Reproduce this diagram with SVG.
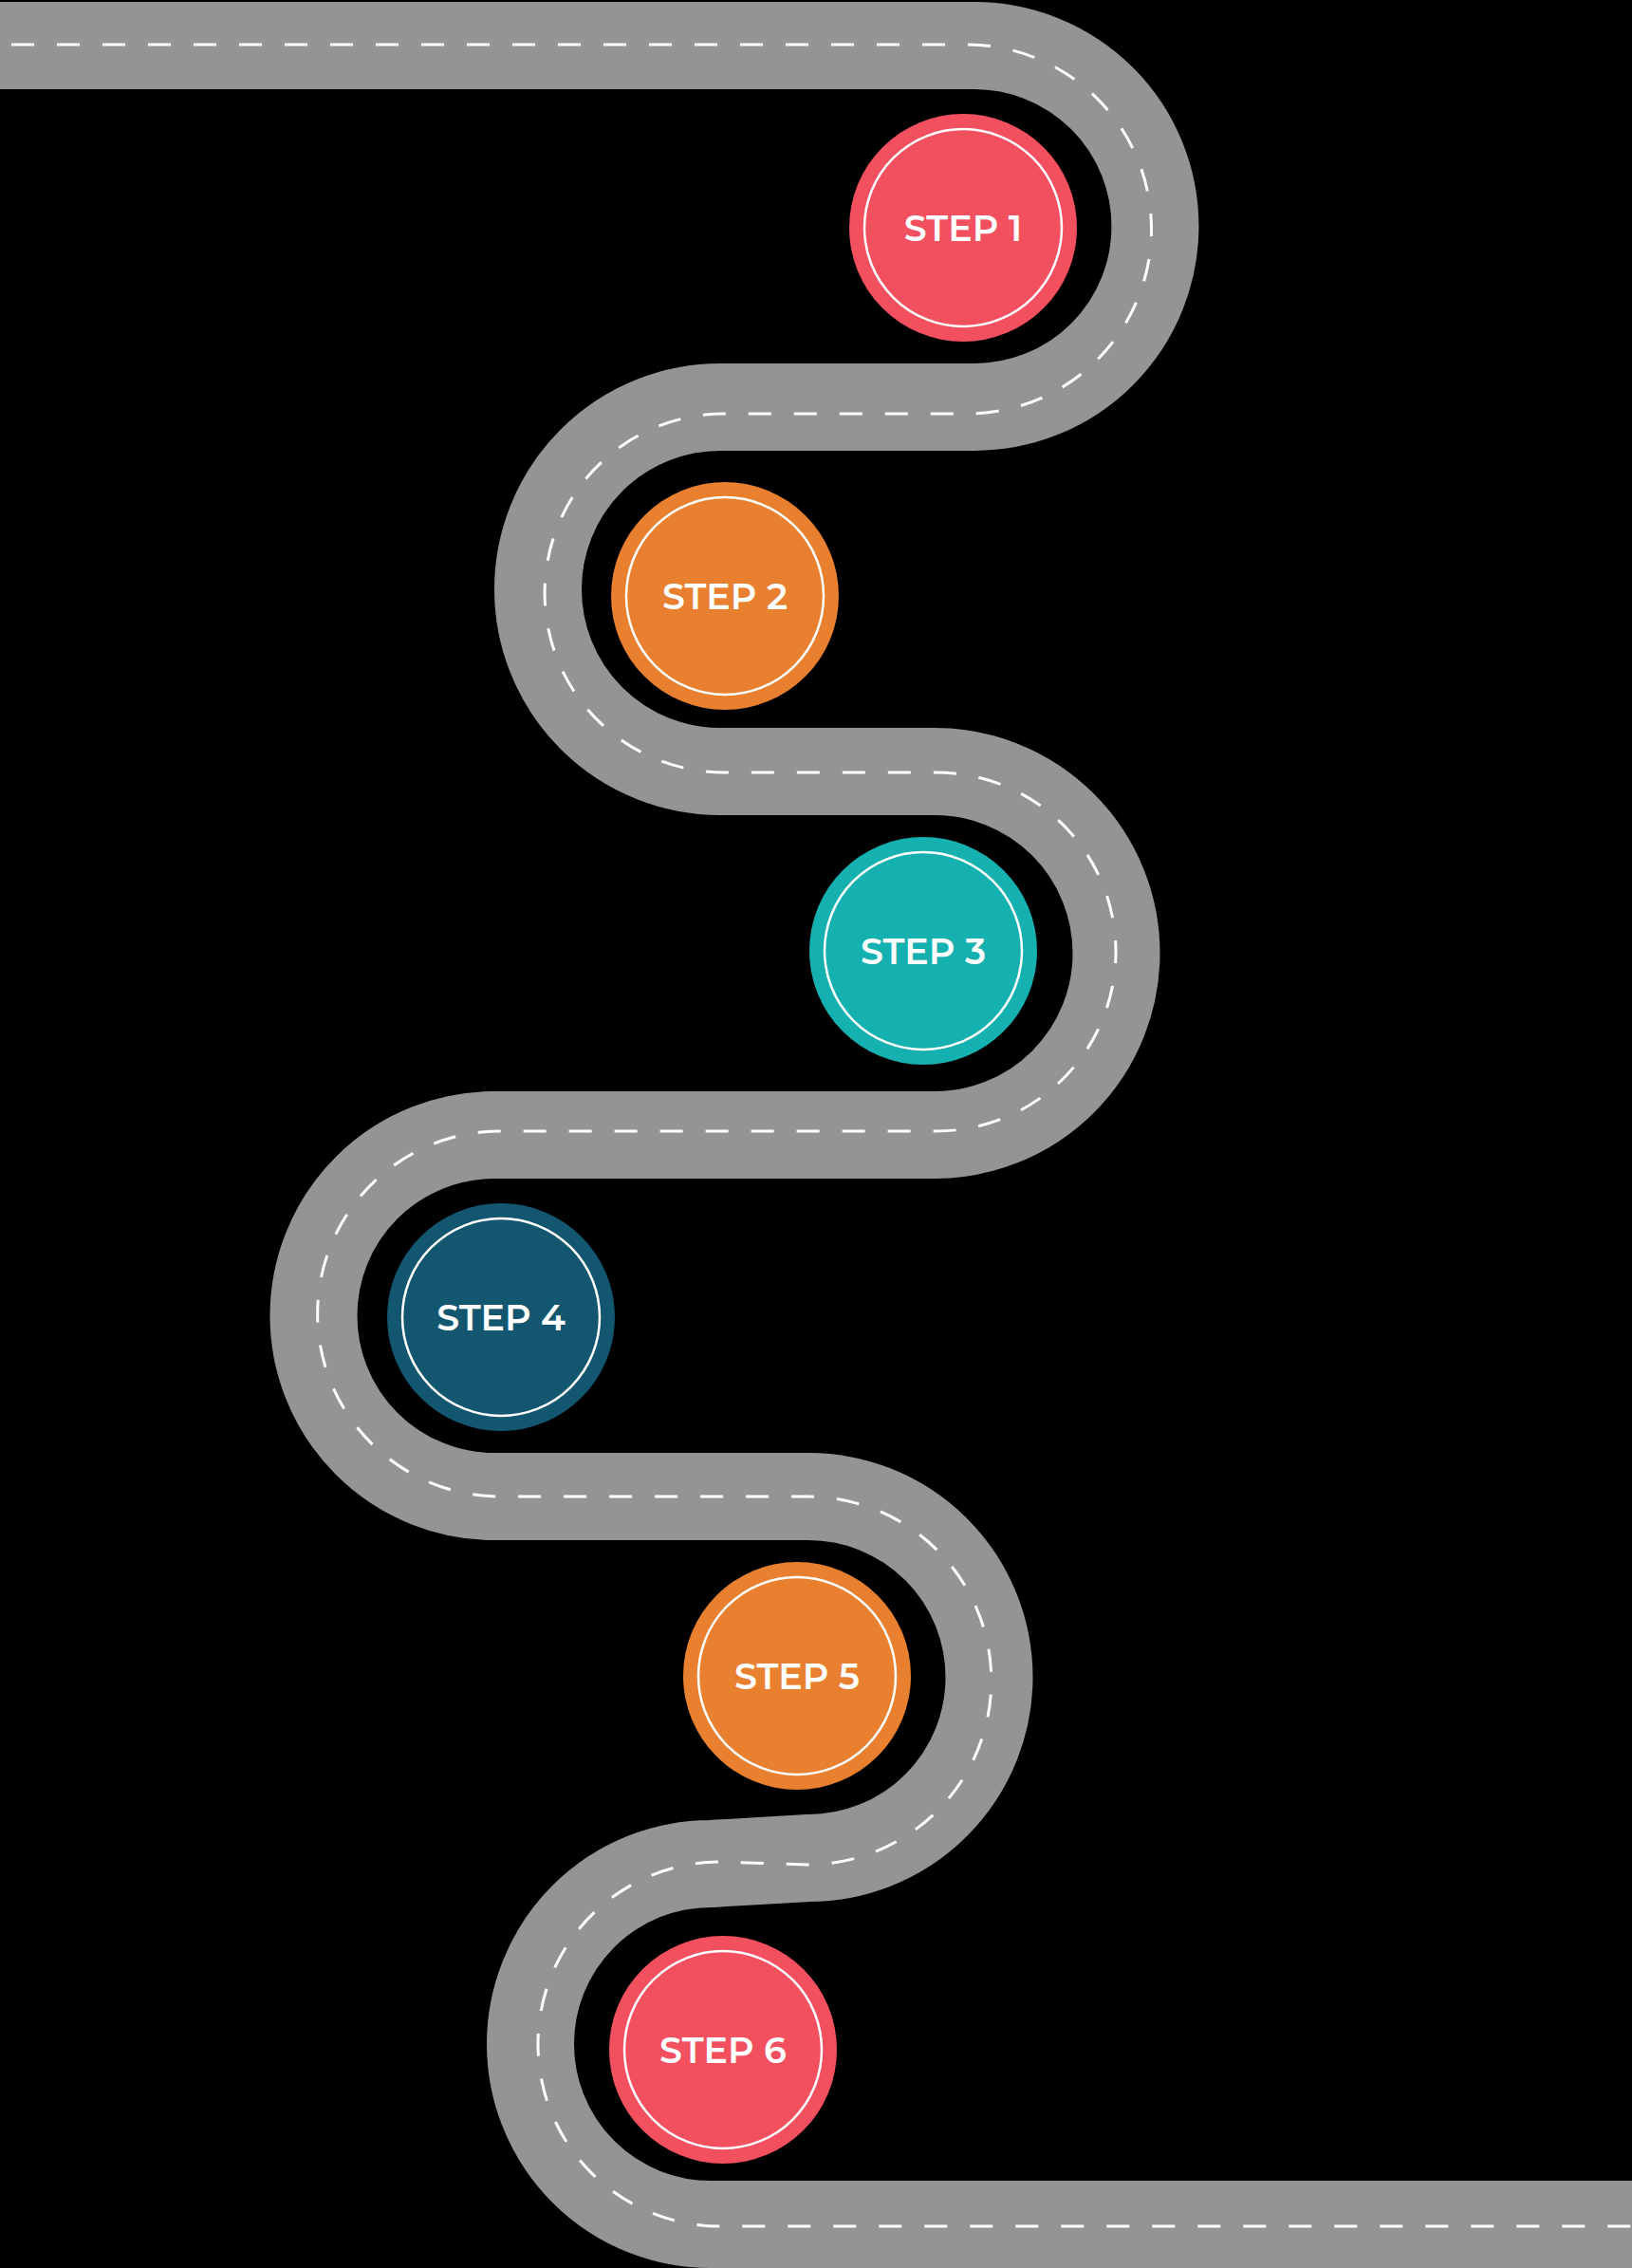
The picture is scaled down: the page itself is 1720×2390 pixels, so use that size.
<svg xmlns="http://www.w3.org/2000/svg" width="1720" height="2390" viewBox="0 0 1720 2390">
  <style>
    .road { fill: none; stroke: #949494; stroke-width: 92; stroke-linejoin: round; }
    .lane { fill: none; stroke: #ffffff; stroke-width: 3; stroke-dasharray: 24 24; stroke-dashoffset: 36; }
    .ring { fill: none; stroke: #ffffff; stroke-width: 2.5; }
    .label { font-family: "Montserrat", "Inter", "Noto Sans", "Liberation Sans", sans-serif; font-weight: 600; font-size: 38px; fill: #ffffff; text-anchor: middle; }
    .red { fill: #F24F5F; }
    .orange { fill: #E88030; }
    .teal { fill: #15B0B0; }
    .navy { fill: #125670; }
  </style>
  <rect x="0" y="0" width="1720" height="2390" fill="#000000"/>
  <g id="connectors">
    <path class="road" d="M -10 48 H 1027 A 190.5 190.5 0 0 1 1027 429 H 759 A 192 192 0 0 0 759 813 H 985 A 191 191 0 0 1 985 1196 H 521 A 190.5 190.5 0 0 0 521 1577 H 852 A 190.5 190.5 0 0 1 852 1958 L 749 1964 A 190 190 0 0 0 749 2344 H 1730"/>
    <path class="lane" d="M 0 47 H 1019 A 194.5 194.5 0 0 1 1019 436 H 763 A 189 189 0 0 0 763 814 H 987 A 189 189 0 0 1 987 1192 H 527 A 192.5 192.5 0 0 0 527 1577 H 851 A 194 194 0 0 1 851 1965 L 759 1962 A 192 192 0 0 0 759 2346 H 1720"/>
  </g>
  <g id="step1">
    <circle class="red" cx="1015" cy="240" r="120"/>
    <circle class="ring" cx="1015" cy="240" r="104"/>
    <text class="label" x="1015" y="254">STEP 1</text>
  </g>
  <g id="step2">
    <circle class="orange" cx="764" cy="628" r="120"/>
    <circle class="ring" cx="764" cy="628" r="104"/>
    <text class="label" x="764" y="642">STEP 2</text>
  </g>
  <g id="step3">
    <circle class="teal" cx="973" cy="1002" r="120"/>
    <circle class="ring" cx="973" cy="1002" r="104"/>
    <text class="label" x="973" y="1016">STEP 3</text>
  </g>
  <g id="step4">
    <circle class="navy" cx="528" cy="1388" r="120"/>
    <circle class="ring" cx="528" cy="1388" r="104"/>
    <text class="label" x="528" y="1402">STEP 4</text>
  </g>
  <g id="step5">
    <circle class="orange" cx="840" cy="1766" r="120"/>
    <circle class="ring" cx="840" cy="1766" r="104"/>
    <text class="label" x="840" y="1780">STEP 5</text>
  </g>
  <g id="step6">
    <circle class="red" cx="762" cy="2160" r="120"/>
    <circle class="ring" cx="762" cy="2160" r="104"/>
    <text class="label" x="762" y="2174">STEP 6</text>
  </g>
</svg>
